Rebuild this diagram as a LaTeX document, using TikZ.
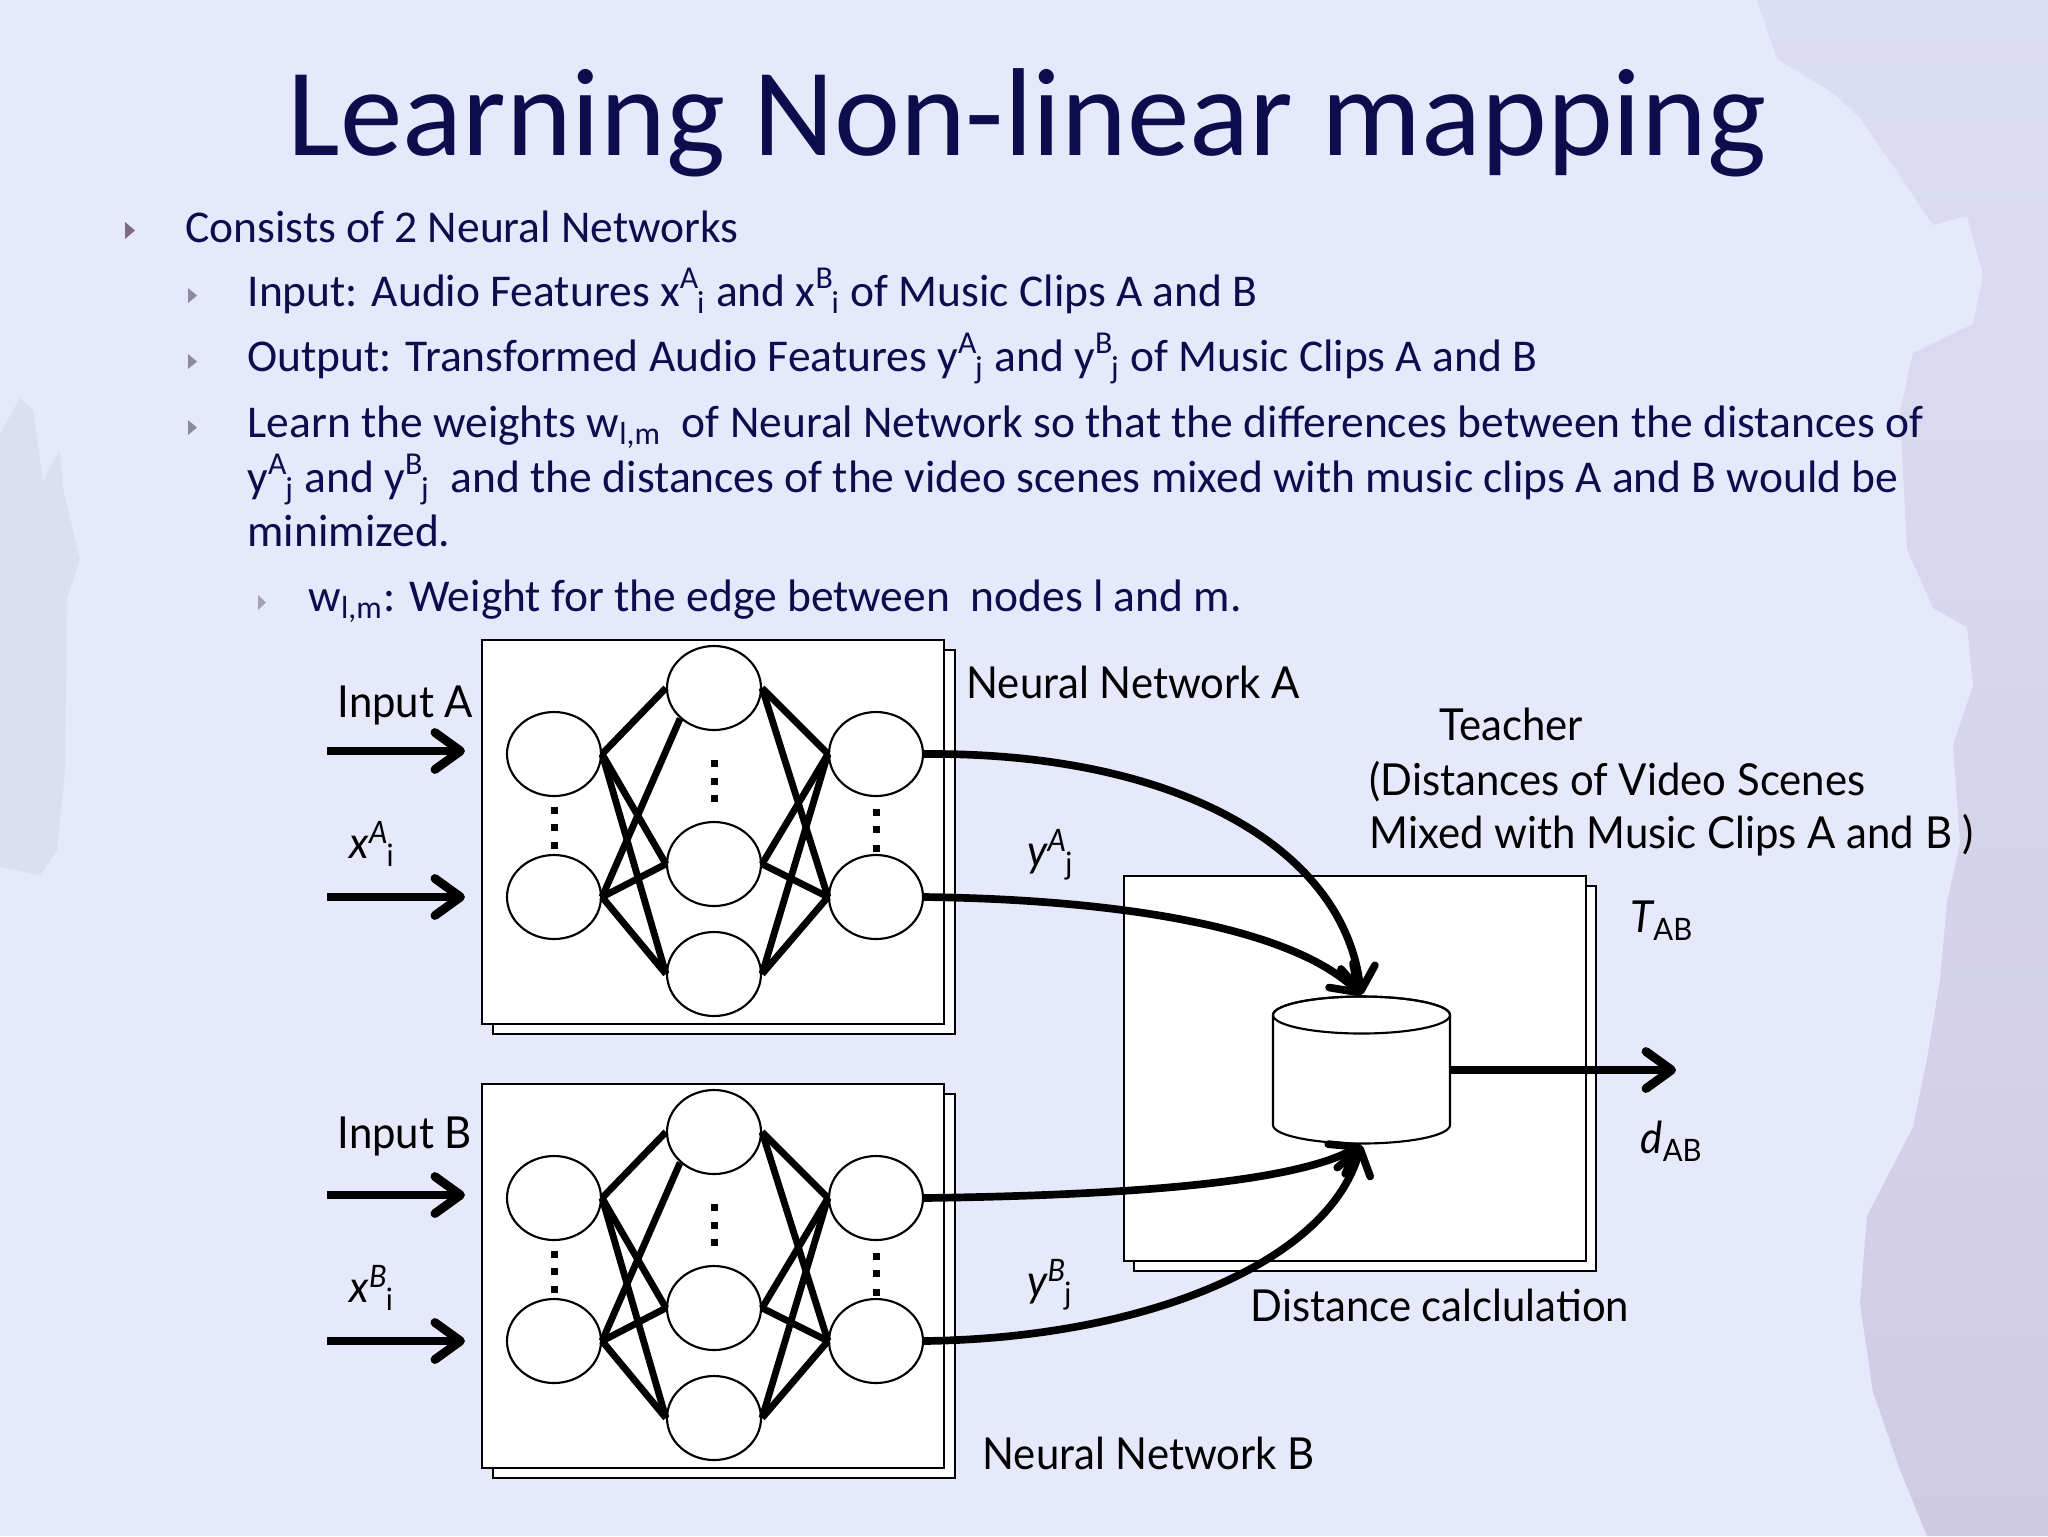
\documentclass[tikz,border=0pt]{standalone}
\usepackage{fontspec}
\usepackage{amsmath}
\setmainfont{Carlito}
\newfontfamily\diagfont[FakeStretch=0.95]{Lato}
\usetikzlibrary{arrows.meta,shapes.geometric}
\newlength\px \setlength\px{0.3516pt}
\definecolor{bgc}{HTML}{E6E8FB}
\definecolor{txtc}{HTML}{0D0D4E}
\definecolor{bulA}{HTML}{7C6A88}
\definecolor{bulB}{HTML}{8A8AA0}
\definecolor{bulC}{HTML}{A4A4B8}
\definecolor{texA}{HTML}{DCDEF3}
\definecolor{texB}{HTML}{D0CBE4}
\definecolor{texL}{HTML}{DCDEF2}
\newcommand\supsb[2]{\ensuremath{^{\text{#1}}\mkern-1mu{}_{\text{#2}}}}
\newcommand\nnet[2]{%
  \node[panel] (#1back) at (492,{649+#2}) {};
  \node[panel] (#1box) at (481,{639+#2}) {};
  \node[neur] (#1i1) at (554,{754+#2}) {};
  \node[neur] (#1i2) at (554,{897+#2}) {};
  \node[neur] (#1h1) at (714,{688+#2}) {};
  \node[neur] (#1h2) at (714,{864+#2}) {};
  \node[neur] (#1h3) at (714,{974+#2}) {};
  \node[neur] (#1o1) at (876,{754+#2}) {};
  \node[neur] (#1o2) at (876,{897+#2}) {};
  \draw[nnedge] (#1i1.east) -- (#1h1.west);
  \draw[nnedge] (#1i1.east) -- (#1h2.west);
  \draw[nnedge] (#1i1.east) -- (#1h3.west);
  \draw[nnedge] (#1i2.east) -- (#1h1.222);
  \draw[nnedge] (#1i2.east) -- (#1h2.west);
  \draw[nnedge] (#1i2.east) -- (#1h3.west);
  \draw[nnedge] (#1h1.east) -- (#1o1.west);
  \draw[nnedge] (#1h1.east) -- (#1o2.west);
  \draw[nnedge] (#1h2.east) -- (#1o1.west);
  \draw[nnedge] (#1h2.east) -- (#1o2.west);
  \draw[nnedge] (#1h3.east) -- (#1o1.west);
  \draw[nnedge] (#1h3.east) -- (#1o2.west);
  \foreach \yy in {810,827,845} {\fill (551,{\yy-3+#2}) rectangle +(7,7);}
  \foreach \yy in {763,781,798} {\fill (711,{\yy-3+#2}) rectangle +(7,7);}
  \foreach \yy in {812,829,848} {\fill (873,{\yy-3+#2}) rectangle +(7,7);}
  \coordinate (#1s1) at (327,{751+#2});
  \coordinate (#1s2) at (327,{897+#2});
  \draw[inarr, shorten >=41\px] (#1s1) -- (#1s1 -| #1i1.west);
  \draw[inarr, shorten >=41\px] (#1s2) -- (#1s2 -| #1i2.west);
}
\begin{document}
\begin{tikzpicture}[x=\px, y=-0.3516pt,
  panel/.style={draw, fill=white, line width=0.75pt, anchor=north west, inner sep=0,
    minimum width=462\px, minimum height=384\px},
  neur/.style={ellipse, draw, fill=white, line width=0.75pt, minimum width=94\px,
    minimum height=84\px, inner sep=0},
  nnedge/.style={line width=2.4pt},
  inarr/.style={line width=3.1pt, -{Straight Barb[length=9pt,width=13pt,round]}},
  carr/.style={line width=2.7pt, -{Straight Barb[length=8.5pt,width=12pt,round]}},
  body/.style={anchor=base west, inner sep=0, text=txtc, font=\fontsize{16}{19}\selectfont},
  dlab/.style={anchor=base west, inner sep=0, text=black, font=\diagfont\fontsize{15.5}{18}\selectfont},
]
\useasboundingbox (0,0) rectangle (2048,1536);
\fill[bgc] (0,0) rectangle (2048,1536);
% background texture
\shade[top color=texA, bottom color=texB] (1757,0) -- (1777,59) -- (1833,93) -- (1860,118) -- (1900,176)
  -- (1933,225) -- (1967,216) -- (1983,275) -- (1973,324) -- (1913,353) -- (1900,412)
  -- (1907,549) -- (1933,608) -- (1967,627) -- (1973,686) -- (1953,745) -- (1960,843)
  -- (1947,902) -- (1940,980) -- (1927,1059) -- (1913,1127) -- (1867,1216) -- (1860,1304)
  -- (1873,1392) -- (1900,1470) -- (1927,1536) -- (2048,1536) -- (2048,0) -- cycle;
\fill[texL] (0,434) -- (20,398) -- (33,410) -- (43,481) -- (60,450) -- (63,489) -- (80,560)
  -- (67,599) -- (65,772) -- (57,851) -- (40,875) -- (0,867) -- cycle;
% title
\node[anchor=base west, inner sep=0, text=txtc, font=\fontsize{44}{50}\selectfont] (title) at (287,155) {Learning Non-linear mapping};
% bullets
\fill[bulA] (125,222) -- (125,239) -- (135,230.5) -- cycle;
\fill[bulB] (188,288) -- (188,303) -- (197,295.5) -- cycle;
\fill[bulB] (188,354) -- (188,369) -- (197,361.5) -- cycle;
\fill[bulB] (188,420) -- (188,435) -- (197,427.5) -- cycle;
\fill[bulC] (258,595) -- (258,610) -- (266,602.5) -- cycle;
\node[body] (t1) at (185,242) {Consists of 2 Neural Networks};
\node[body] (t2) at (247,306) {Input: Audio Features x\supsb{A}{i} and x\supsb{B}{i} of Music Clips A and B};
\node[body] (t3) at (247,371) {Output: Transformed Audio Features y\supsb{A}{j} and y\supsb{B}{j} of Music Clips A and B};
\node[body] (t4) at (247,437) {Learn the weights w\ensuremath{_{\text{l,m}}}\ \ of Neural Network so that the differences between the distances of};
\node[body] (t5) at (247,492) {y\supsb{A}{j} and y\supsb{B}{j}\ \ and the distances of the video scenes mixed with music clips A and B would be};
\node[body] (t6) at (247,546) {minimized.};
\node[body] (t7) at (308,611) {w\ensuremath{_{\text{l,m}}}: Weight for the edge between\ \ nodes l and m.};
% networks
\nnet{A}{0}
\nnet{B}{444}
% teacher box
\node[panel, minimum height=385\px] (tback) at (1133,885) {};
\node[panel, minimum height=385\px] (tbox) at (1123,875) {};
\filldraw[fill=white, line width=0.75pt] (1273,1015) -- (1273,1125)
  arc[start angle=180, end angle=360, x radius=88.5\px, y radius=18.5\px] -- (1450,1015)
  arc[start angle=0, end angle=180, x radius=88.5\px, y radius=18.5\px] -- cycle;
\draw[line width=0.75pt] (1361.5,1015) ellipse [x radius=88.5\px, y radius=18.5\px];
\coordinate (cyltop) at (1361,995);
\coordinate (cylbot) at (1361,1145);
\coordinate (cylR) at (1450,1070);
\coordinate (dend) at (1676,1070);
% curves
\draw[carr] (Ao1.east) .. controls (1180,752) and (1345,850) .. (cyltop);
\draw[carr] (Ao2.east) .. controls (1150,900) and (1300,935) .. (cyltop);
\draw[carr] (Bo1.east) .. controls (1150,1195) and (1300,1180) .. (cylbot);
\draw[carr] (Bo2.east) .. controls (1150,1338) and (1330,1260) .. (cylbot);
\draw[inarr] (cylR) -- (dend);
% labels
\node[dlab] (lInA) at (337,717) {Input A};
\node[dlab] (lxA) at (349,858) {{\itshape x}\supsb{\itshape A}{i}};
\node[dlab] (lInB) at (337,1148) {Input B};
\node[dlab] (lxB) at (349,1302) {{\itshape x}\supsb{\itshape B}{i}};
\node[dlab] (lNNA) at (966,698) {Neural Network A};
\node[dlab] (lNNB) at (982,1469) {Neural Network B};
\node[dlab] (lyA) at (1027,866) {{\itshape y}\supsb{\itshape A}{j}};
\node[dlab] (lyB) at (1027,1296) {{\itshape y}\supsb{\itshape B}{j}};
\node[dlab] (lT1) at (1439,740) {Teacher};
\node[dlab] (lT2) at (1369,795) {(Distances of Video Scenes};
\node[dlab] (lT3) at (1369,848) {Mixed with Music Clips A and B )};
\node[dlab] (lTAB) at (1630,932) {{\itshape T}\ensuremath{_{\text{AB}}}};
\node[dlab] (ldAB) at (1640,1153) {{\itshape d}\ensuremath{_{\text{AB}}}};
\node[dlab] (ldist) at (1250,1321) {Distance calclulation};
\end{tikzpicture}
\end{document}
